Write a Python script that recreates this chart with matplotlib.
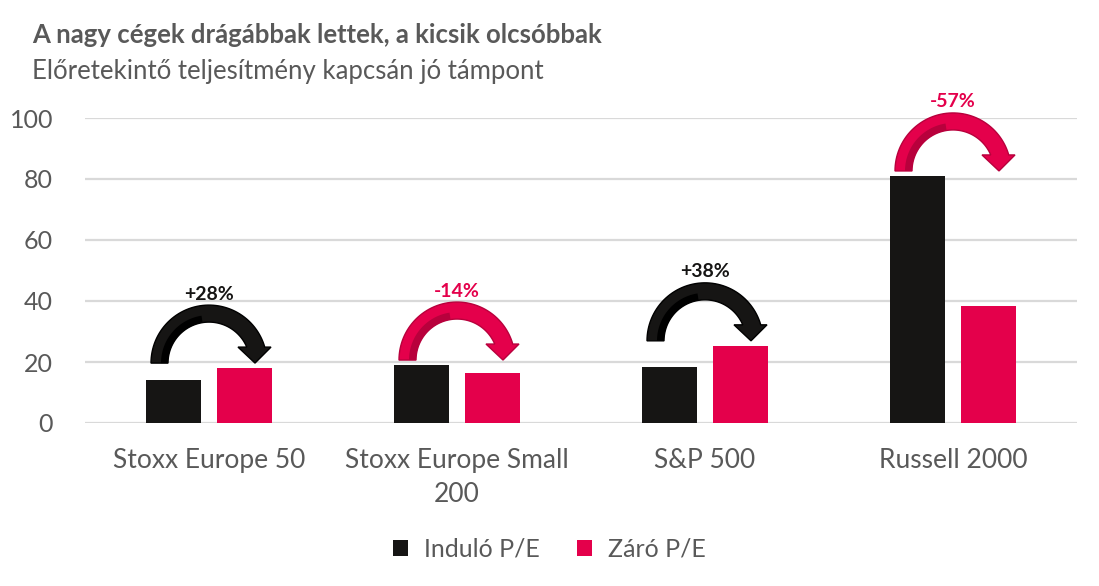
import numpy as np
import matplotlib
matplotlib.use("Agg")
from matplotlib import pyplot as plt
from matplotlib.patches import Polygon

plt.rcParams['font.family'] = ['Lato', 'DejaVu Sans']

# data
categories = ['Stoxx Europe 50', 'Stoxx Europe Small\n200', 'S&P 500', 'Russell 2000']
start_pe = [14.1, 19.0, 18.4, 81.0]
end_pe = [18.0, 16.4, 25.3, 38.4]
change_labels = ['+28%', '-14%', '+38%', '-57%']
series_names = ['Induló P/E', 'Záró P/E']

title = 'A nagy cégek drágábbak lettek, a kicsik olcsóbbak'
subtitle = 'Előretekintő teljesítmény kapcsán jó támpont'

BLACK = '#161514'
RED = '#E4004B'
GREY = '#595959'
GRID = '#D9D9D9'

W, H = 1099, 586
fig = plt.figure(figsize=(W / 100, H / 100), dpi=100)
ax = fig.add_axes([85 / W, 1 - 423 / H, 992 / W, 305 / H])

x = np.arange(len(categories))
bw = 0.222
off = 0.142
ax.bar(x - off, start_pe, bw, color=BLACK, label=series_names[0], zorder=3)
ax.bar(x + off, end_pe, bw, color=RED, label=series_names[1], zorder=3)

ax.set_xlim(-0.5, len(categories) - 0.5)
ax.set_ylim(0, 100)
ax.set_yticks(np.arange(0, 101, 20))
ax.yaxis.grid(True, color=GRID, linewidth=1.6, zorder=0)
ax.set_axisbelow(True)
for s in ax.spines.values():
    s.set_visible(False)
ax.tick_params(axis='both', length=0, labelcolor=GREY)
ax.tick_params(axis='y', pad=23, labelsize=18)
ax.tick_params(axis='x', pad=18, labelsize=19)
ax.set_xticks(x)
ax.set_xticklabels(categories, linespacing=1.45)

# curved arrows, shape defined in pixels then mapped to data units
p0 = ax.transData.transform((0, 0))
p1 = ax.transData.transform((1, 1))
sx = p1[0] - p0[0]
sy = p1[1] - p0[1]
Ro, Ri = 58, 41
head_y, head_l, head_r, tip_x = 16, 29, 62, 46


def arrow_shape(cx, by):
    te_o = np.arcsin(head_y / Ro)
    te_i = np.arcsin(head_y / Ri)
    to = np.linspace(np.pi, te_o, 60)
    ti = np.linspace(te_i, np.pi, 60)
    pts = [(Ro * np.cos(t), Ro * np.sin(t)) for t in to]
    pts += [(head_r, head_y), (tip_x, 0), (head_l, head_y)]
    pts += [(Ri * np.cos(t), Ri * np.sin(t)) for t in ti]
    pts = np.array(pts)
    return np.column_stack([cx + pts[:, 0] / sx, by + pts[:, 1] / sy])


def stripe_shape(cx, by):
    t1 = np.linspace(np.pi, np.pi * 0.55, 30)
    t2 = t1[::-1]
    pts = [((Ri + 7) * np.cos(t), (Ri + 7) * np.sin(t)) for t in t1]
    pts += [(Ri * np.cos(t), Ri * np.sin(t)) for t in t2]
    pts = np.array(pts)
    return np.column_stack([cx + pts[:, 0] / sx, by + pts[:, 1] / sy])


for i in range(len(categories)):
    up = end_pe[i] > start_pe[i]
    col = BLACK if up else RED
    dark = '#000000' if up else '#B8003C'
    by = max(start_pe[i], end_pe[i]) + 5 / sy
    cx = x[i]
    ax.add_patch(Polygon(arrow_shape(cx, by), closed=True, facecolor=col,
                         edgecolor=dark, linewidth=1, zorder=4, clip_on=False))
    ax.add_patch(Polygon(stripe_shape(cx, by), closed=True, facecolor=dark,
                         edgecolor='none', zorder=5, clip_on=False))
    ax.text(cx, by + (Ro + 11) / sy, change_labels[i], ha='center', va='center',
            fontsize=14, fontweight='bold', color=col, zorder=6)

fig.text(32 / W, 1 - 43 / H, title, fontsize=18.5, fontweight='bold',
         color=GREY, va='baseline', ha='left')
fig.text(32 / W, 1 - 79 / H, subtitle, fontsize=18.5, color=GREY,
         va='baseline', ha='left')

leg = fig.legend(loc='center', bbox_to_anchor=(0.5, 1 - 549 / H), ncol=2,
                 frameon=False, fontsize=18, handlelength=0.6, handleheight=0.6,
                 handletextpad=0.64, columnspacing=1.5)
for t in leg.get_texts():
    t.set_color(GREY)

fig.savefig('out.png', dpi=100)
